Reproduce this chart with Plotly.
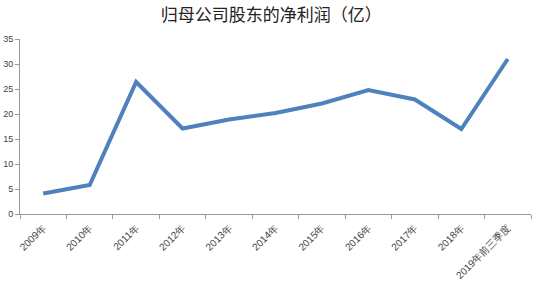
import plotly.graph_objects as go

categories = ["2009年", "2010年", "2011年", "2012年", "2013年", "2014年",
              "2015年", "2016年", "2017年", "2018年", "2019年前三季度"]
profit = [4.1, 5.8, 26.4, 17.1, 18.9, 20.2, 22.1, 24.8, 22.9, 17.0, 31.0]
y_ticks = [0, 5, 10, 15, 20, 25, 30, 35]

fig = go.Figure()
fig.add_trace(go.Scatter(
    x=categories, y=profit, mode="lines",
    line=dict(color="#4F81BD", width=4),
))

fig.update_layout(
    width=537, height=282,
    margin=dict(l=20, r=6, t=39, b=68, autoexpand=False),
    paper_bgcolor="white", plot_bgcolor="white",
    showlegend=False,
    title=dict(text="归母公司股东的净利润（亿）", x=0.505, xanchor="center",
               y=0.945, yanchor="middle",
               font=dict(family="Noto Sans CJK SC", size=17, color="#222222")),
    font=dict(family="Noto Sans CJK SC", size=9, color="#444444"),
)
fig.update_xaxes(
    type="category", range=[-0.5, 10.5], tickangle=-45, tickson="boundaries",
    ticks="outside", ticklen=4, tickcolor="#999999",
    showline=True, linecolor="#999999", linewidth=1,
    showgrid=False, zeroline=False, automargin=False,
    ticklabelstandoff=3,
    tickfont=dict(family="Liberation Sans", size=10, color="#444444"),
)
fig.update_yaxes(
    range=[0, 35], tickvals=y_ticks,
    ticks="outside", ticklen=4, tickcolor="#999999",
    showline=True, linecolor="#999999", linewidth=1,
    showgrid=False, zeroline=False, automargin=False,
    tickfont=dict(family="Liberation Sans", size=9, color="#444444"),
)

fig.write_html("out.html")
